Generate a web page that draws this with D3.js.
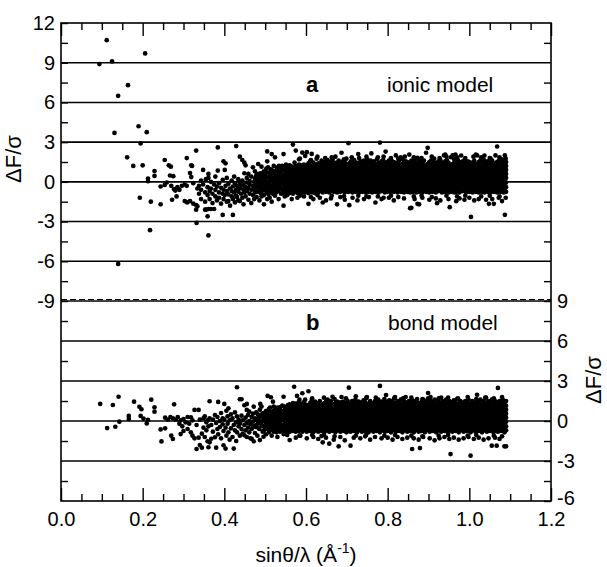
<!DOCTYPE html>
<html><head><meta charset="utf-8">
<script src="https://cdn.jsdelivr.net/npm/d3@7"></script>
<style>body{margin:0;background:#fff} svg{display:block} text{font-family:"Liberation Sans",Arial,sans-serif;fill:#000}</style>
</head><body><svg id="c" width="607" height="567"></svg>
<script>
const xTickLabels=[0,0.2,0.4,0.6,0.8,1.0,1.2];
const xMinor=[.05,.1,.15,.25,.3,.35,.45,.5,.55,.65,.7,.75,.85,.9,.95,1.05,1.1,1.15];
const topTicks=[-9,-6,-3,0,3,6,9,12];
const topMinor=[10.5,7.5,4.5,1.5,-1.5,-4.5,-7.5];
const botTicks=[-6,-3,0,3,6,9];
const botMinor=[7.5,4.5,1.5,-1.5,-4.5];
const topLines=[9,6,3,0,-3,-6];
const botLines=[6,3,0,-3];
const panelLabels=["a","b"];
const modelNames=["ionic model","bond model"];

// panel a (ionic model): [sinθ/λ, list of ΔF/σ]
const ionicCols=[
[.094,[8.9]],[.112,[10.7]],[.125,[9.1]],[.131,[3.7]],[.140,[6.5,-6.2]],[.162,[1.85]],[.164,[7.3]],[.177,[1.2]],[.190,[4.2]],[.193,[-1.2]],[.195,[2.9]],[.200,[1.25]],[.206,[9.7]],[.210,[3.75]],[.213,[.25,.05]],[.218,[-3.65]],[.220,[-1.5]],[.229,[.82,.45]],[.244,[-.35,-1.7]],[.254,[1.65,-.23]],[.259,[-.05]],[.264,[1.25]],[.267,[.48]],[.269,[1.15]],[.270,[-.3]],[.272,[-1.35]],[.275,[.43]],[.277,[-.55]],[.280,[-.66]],[.283,[-1.1]],[.285,[-.4]],[.290,[-.6]],[.296,[-.3]],[.303,[-.2,-1.45]],[.308,[1.8,-.3]],[.309,[-1.55]],[.316,[.66,-1.45]],[.319,[.36,1.25]],[.321,[1.2]],[.324,[-1.65,-.1]],[.331,[2.36,-1.75,-2.1]],[.332,[-3.1]],[.334,[-1.85,-.5]],
[.338,[-.3,-.9]],[.343,[.1,-1.3,-.6]],[.348,[.9,-.2]],[.353,[-2.1,-.8,-1.5]],[.355,[-2.1,.2]],[.359,[-2.6,-.4,-1.0]],[.361,[.6,.3,-4.05,-2.05]],[.364,[-.7,-1.3]],[.367,[-2.05,.0,-.5]],[.371,[-.9,-1.6]],[.375,[-2.05,-.2]],[.378,[-.6,-1.1,.4]],[.382,[-1.4,-.35]],[.384,[2.6,.85]],[.387,[-.8,-.1,-1.2]],[.392,[-1.65,-.45]],[.396,[-2.5,-.9,.15]],[.398,[1.55,-1.3,-.6]],[.401,[.9,-1.0]],[.403,[1.4,-.3]],[.406,[-.7,-1.5,.3]],[.41,[-1.45,-.15,-.95]],[.414,[-.5,-1.8]],[.418,[.1,-1.1,-.7]],[.421,[-2.5,-1.3,-.35]],[.424,[-.8,.4]],[.426,[-1.55,-.1]],[.429,[2.7,-.6,-1.05]],[.431,[-1.15,-.3]],[.434,[.2,-.75,-1.4]],[.438,[1.9,-1.45,-.5,-.05]],[.441,[-.9,-.3]],[.444,[1.65,-1.2,.1]],[.447,[-.6,-.25,-1.7]],[.449,[1.45,.65,-.8]],[.452,[1.25,-.4,-1.1]],[.455,[-.05,-.7,.3]],[.459,[.6,-1.35,-.45]],[.462,[-.2,-.9,.05]],[.466,[-.6,-1.6,.4]],[.47,[1.1,-.3,-1.0]],[.473,[.0,-.55,-1.3]],[.475,[.8,-.8,.25]],[.479,[-.4,-1.15,.55]],[.483,[1.35,-.1,-.7]],[.486,[.3,-1.4,-.45]],[.489,[.0,-.85,.65]],[.491,[1.15,-.3,-1.1]],[.494,[.45,-.6,.1]],[.497,[-.2,-1.0,.8,-1.7]],[.5,[.25,-.45,.55]],[.503,[-.75,.0,1.0]],[.505,[2.3,1.55,-.3,-1.3]],[.508,[.35,-.5,-.95,.7]],[.511,[.1,-.2,-1.2]],[.514,[.6,-.65,.95]],[.516,[2.1,-.35,.25,-1.5]],[.519,[.5,-.9,.0]],[.521,[1.2,-.15,.7,-.6]],[.524,[1.85,.3,-1.05]],[.527,[-.4,.05,.85,-.8]],[.53,[.5,-.25,1.1]],[.533,[-.7,.2,-1.3,.65]],[.536,[.95,.0,-.45]],[.539,[-.2,.4,-.9,.75]],[.542,[1.2,-.55,.15]],[.545,[2.1,.5,-.1,-1.8,-.8]],[.548,[.85,-.4,.25,-1.1]],[.551,[1.3,.0,-.65,.55]],[.554,[-.3,.35,.9,-1.0]],[.557,[.1,-.75,.6,1.2]],
[.477,[.35,-.2]],[.481,[-.75,.15]],[.485,[.6,-.3]],[.492,[-.05,.4,-.7]],[.496,[.7,-.35]],[.501,[-.6,.3,.75]],[.507,[.0,-.7,1.1]],[.513,[.45,-.35,-.8]],[.518,[.85,.2,-.5]],[.523,[-.2,.6,-.95]],[.529,[.15,-.6,.95]],[.534,[.4,-.15,1.2]],[.538,[-.45,.7,.1]],[.543,[.3,-.85,.9]],[.547,[-.1,.55,1.1,-.6]],[.552,[.3,-.35,.8,-.9]],[.555,[.0,.5,1.0,-.5]],[.558,[-.3,.2,.7,1.05,-.85]],
[.560,[-.85,-.55,-.2,.1,.4,.7,1.0,1.25]],[.565,[-.7,-.4,-.05,.25,.55,.85,1.15,-1.3]],[.568,[2.82,-.9,-.6,-.3,.0,.3,.65,.95]],[.572,[-.75,-.45,-.1,.2,.5,.8,1.1,1.45]],[.575,[2.36,-.65,-.3,.05,.35,.6,.9,1.2]],[.579,[-.85,-.5,-.2,.1,.45,.75,1.05,-1.2]],[.583,[-.7,-.35,-.05,.25,.55,.9,1.3,1.7]],[.587,[-.9,-.55,-.25,.1,.4,.7,1.0,1.25]],[.591,[2.21,-.75,-.4,-.1,.2,.55,.85,1.15]],[.595,[-.6,-.3,.05,.35,.65,.95,1.3,-1.1]],[.598,[1.96,-.8,-.5,-.15,.15,.45,.8,1.1]],[.602,[2.24,-.7,-.4,-.05,.25,.6,.9,1.2]],[.606,[-1.66,-.85,-.5,-.2,.1,.4,.75,1.05,1.4]],[.610,[-.65,-.35,.0,.3,.6,.9,1.2,1.55]],[.614,[2.11,-.8,-.45,-.15,.2,.5,.8,1.1]],[.618,[-.7,-.4,-.05,.25,.55,.85,1.15,1.45,-1.3]],[.622,[-.85,-.5,-.2,.1,.4,.7,1.0,1.3]],[.626,[-.6,-.3,.05,.35,.65,.95,1.25,1.75]],[.630,[-.8,-.45,-.15,.2,.5,.8,1.1,1.4]],[.634,[-1.2,-.7,-.35,-.05,.3,.6,.9,1.2]],[.638,[-.55,-.25,.1,.4,.7,1.0,1.35,1.6]],[.641,[-1.56,-.8,-.45,-.1,.2,.5,.85,1.15]],[.645,[-.65,-.3,.0,.35,.65,.95,1.25,1.5]],[.649,[-.75,-.4,-.1,.25,.55,.85,1.15,1.45,-1.4]],[.653,[-.6,-.25,.05,.4,.7,1.0,1.3,1.65]],[.657,[-.8,-.45,-.15,.15,.45,.75,1.1,1.4]],[.661,[-.7,-.35,.0,.3,.6,.9,1.2,1.5,-1.25]],[.665,[-.55,-.25,.1,.45,.75,1.05,1.35,1.7]],[.668,[-.75,-.4,-.05,.25,.55,.85,1.2,1.45]],[.672,[1.9,-.65,-.3,.05,.35,.7,1.0,1.3]],[.676,[-1.7,-.8,-.45,-.1,.2,.5,.8,1.1,1.45]],[.680,[-.6,-.25,.1,.4,.7,1.05,1.35,1.6]],[.684,[-.75,-.4,-.05,.3,.6,.9,1.2,1.5,-1.15]],[.687,[2.2,-.55,-.2,.15,.45,.75,1.05,1.4]],[.691,[-.7,-.35,.0,.3,.65,.95,1.25,1.55]],[.695,[-.8,-.45,-.1,.2,.5,.85,1.15,1.45,-1.35]],[.699,[-.6,-.25,.1,.4,.7,1.0,1.3,1.75]],[.704,[2.92,-.75,-.4,-.05,.25,.55,.9,1.2]],[.706,[-1.76,-.55,-.2,.15,.45,.8,1.1,1.4]],[.710,[-.7,-.35,.0,.35,.65,.95,1.25,1.55]],[.714,[-.8,-.45,-.1,.25,.55,.85,1.15,1.5,-1.2]],[.718,[-.6,-.3,.05,.4,.7,1.0,1.35,1.65]],[.722,[-.75,-.4,-.05,.3,.6,.9,1.2,1.45]],[.726,[-.55,-.2,.1,.45,.75,1.05,1.4,-1.4]],[.730,[-.8,-.45,-.15,.2,.5,.8,1.1,1.45,1.8]],[.734,[-.65,-.3,.0,.35,.65,.95,1.25,1.55]],[.738,[-.75,-.4,-.05,.3,.6,.9,1.2,1.5]],[.742,[-.6,-.25,.1,.4,.7,1.0,1.3,1.6,-1.3]],[.746,[-.8,-.45,-.1,.25,.55,.85,1.15,1.45]],[.750,[-.65,-.3,.05,.35,.7,1.0,1.3,1.7]],[.754,[-.75,-.4,-.05,.3,.6,.9,1.2,1.5,-1.15]],[.758,[-.55,-.2,.15,.45,.75,1.05,1.35,1.6]],[.762,[-.8,-.45,-.1,.2,.5,.8,1.1,1.45]],[.766,[-.65,-.3,.0,.35,.65,.95,1.3,1.55]],[.770,[-1.56,-.75,-.4,-.05,.3,.6,.9,1.2]],[.774,[-.6,-.25,.1,.4,.7,1.0,1.35,1.7]],[.778,[-.8,-.45,-.15,.2,.5,.85,1.15,1.45]],[.781,[2.97,-.65,-.3,.05,.35,.65,.95,1.25]],[.785,[-.7,-.35,.0,.3,.6,.9,1.2,1.55,-1.3]],[.789,[-.55,-.2,.15,.45,.75,1.1,1.4,1.65]],[.793,[-.8,-.45,-.1,.25,.55,.85,1.15,1.45]],[.795,[2.29,-.65,-.3,.05,.4,.7,1.0,1.3]],[.799,[-.75,-.4,-.05,.3,.6,.9,1.2,1.5]],[.803,[-.6,-.25,.1,.4,.7,1.0,1.3,1.6,-1.2]],[.807,[-.8,-.45,-.15,.2,.5,.8,1.1,1.45]],[.811,[-.65,-.3,.0,.35,.65,.95,1.25,1.55]],[.815,[-.75,-.4,-.05,.3,.6,.9,1.25,1.5,-1.4]],[.820,[2.0,-.55,-.2,.15,.45,.75,1.05,1.4]],[.824,[-.8,-.45,-.1,.25,.55,.85,1.15,1.45]],[.828,[-.65,-.3,.05,.35,.65,.95,1.3,1.6]],[.832,[1.86,-.75,-.4,-.05,.3,.6,.9,1.2]],[.836,[1.7,-.6,-.25,.1,.4,.7,1.05,1.35]],[.840,[-.8,-.45,-.1,.2,.5,.8,1.1,1.45,-1.25]],[.844,[-.65,-.3,.0,.35,.65,.95,1.25,1.55]],[.848,[-.75,-.4,-.05,.3,.6,.9,1.2,1.5]],[.853,[2.06,-.55,-.2,.15,.45,.75,1.1,1.4]],[.855,[-1.99,-.8,-.45,-.1,.25,.55,.85,1.15]],[.858,[-1.96,-.65,-.3,.05,.35,.65,1.0,1.3,1.6]],[.862,[-.75,-.4,-.05,.3,.6,.9,1.2,1.5]],[.866,[-.6,-.25,.1,.4,.7,1.0,1.35,1.65,-1.3]],[.870,[-.8,-.45,-.15,.2,.5,.8,1.1,1.45]],[.873,[1.81,-1.66,-.65,-.3,.0,.35,.65,.95,1.25]],[.877,[-1.7,-.75,-.4,-.05,.3,.6,.9,1.2,1.55]],[.881,[-.55,-.2,.15,.45,.75,1.05,1.4,1.7]],[.885,[-.8,-.45,-.1,.2,.5,.85,1.15,1.45,-1.2]],[.889,[-.65,-.3,.05,.35,.65,.95,1.25,1.6]],[.894,[2.2,-.75,-.4,-.05,.3,.6,.9,1.2]],[.898,[2.57,-.6,-.25,.1,.4,.7,1.0,1.35]],[.902,[-.8,-.45,-.1,.25,.55,.85,1.15,1.5,-1.35]],[.906,[-.65,-.3,.0,.35,.65,.95,1.3,1.6]],[.910,[-.75,-.4,-.05,.3,.6,.9,1.2,1.5]],[.914,[-.55,-.2,.15,.45,.75,1.05,1.4,1.75]],[.918,[-.8,-.45,-.1,.2,.5,.8,1.1,1.45,-1.25]],[.921,[-1.61,-.65,-.3,.05,.35,.65,.95,1.25]],[.925,[-.7,-.35,.0,.3,.6,.9,1.2,1.55]],[.929,[-.6,-.25,.1,.4,.7,1.0,1.35,1.65,-1.4]],[.933,[-.8,-.45,-.15,.2,.5,.85,1.15,1.45]],[.938,[2.0,-.65,-.3,.05,.35,.65,.95,1.3]],[.941,[2.06,-.75,-.4,-.05,.3,.6,.9,1.2,1.55]],[.945,[-.55,-.2,.15,.45,.75,1.05,1.35,1.65]],[.949,[-.8,-.45,-.1,.25,.55,.85,1.15,1.45,-1.3]],[.952,[-1.91,-.65,-.3,.0,.35,.65,.95,1.25]],[.955,[1.86,-.75,-.4,-.05,.3,.6,.9,1.2]],[.959,[2.0,-.6,-.25,.1,.4,.7,1.0,1.35]],[.963,[-.8,-.45,-.1,.2,.5,.8,1.1,1.45,1.7]],[.966,[2.06,-.65,-.3,.05,.35,.65,.95,1.3]],[.968,[-1.46,-.75,-.4,-.05,.3,.6,.9,1.2]],[.972,[-.55,-.2,.15,.45,.75,1.05,1.4,1.65]],[.976,[-.8,-.45,-.1,.25,.55,.85,1.15,1.5,-1.25]],[.980,[1.99,-.65,-.3,.0,.35,.65,.95,1.25]],[.984,[-.7,-.35,.0,.3,.6,.9,1.2,1.55]],[.988,[-.6,-.25,.1,.4,.7,1.0,1.3,1.65,-1.35]],[.992,[-.8,-.45,-.15,.2,.5,.8,1.1,1.45]],[.996,[-.65,-.3,.05,.35,.65,.95,1.25,1.55]],[1.000,[-.75,-.4,-.05,.3,.6,.9,1.2,1.5,-1.2]],[1.004,[-2.65,-.55,-.2,.15,.45,.75,1.05,1.4]],[1.008,[-.8,-.45,-.1,.25,.55,.85,1.15,1.45]],[1.012,[-.65,-.3,.0,.35,.65,.95,1.3,1.6,-1.4]],[1.016,[2.06,-.75,-.4,-.05,.3,.6,.9,1.2]],[1.019,[2.0,-.6,-.25,.1,.4,.7,1.0,1.35]],[1.023,[-.8,-.45,-.1,.2,.5,.85,1.15,1.5,-1.3]],[1.027,[-.65,-.3,.05,.35,.65,.95,1.25,1.6]],[1.031,[-.75,-.4,-.05,.3,.6,.9,1.2,1.55]],[1.035,[-.55,-.2,.15,.45,.75,1.05,1.35,1.7]],[1.037,[1.99,-.8,-.45,-.1,.25,.55,.85,1.15]],[1.041,[-.65,-.3,.0,.35,.65,.95,1.25,1.5,-1.35]],[1.045,[-.75,-.4,-.05,.3,.6,.9,1.2,1.55]],[1.048,[-1.66,-.6,-.25,.1,.4,.7,1.0,1.35]],[1.052,[-.8,-.45,-.1,.2,.5,.8,1.1,1.45,1.75]],[1.056,[-.65,-.3,.05,.35,.65,.95,1.3,1.6,-1.3]],[1.060,[-1.66,-.75,-.4,-.05,.3,.6,.9,1.2]],[1.064,[2.0,-.55,-.2,.15,.45,.75,1.05,1.4]],[1.068,[2.67,-.8,-.45,-.1,.25,.55,.85,1.15,1.5]],[1.072,[-.65,-.3,.0,.35,.65,.95,1.25,1.6,-1.2]],[1.076,[-.75,-.4,-.05,.3,.6,.9,1.2,1.55]],[1.080,[-.6,-.25,.1,.4,.7,1.0,1.35,1.7,-1.45]],[1.084,[-.8,-.45,-.1,.2,.5,.8,1.1,1.45]],[1.087,[-2.49,-.65,-.3,.05,.35,.65,.95,1.3,2.0]],[1.090,[-.75,-.4,-.05,.3,.6,.9,1.2,1.5]],
[.585,[1.75,-1.05]],[.612,[1.65,-1.15]],[.628,[-1.0,1.9]],[.647,[1.8]],[.663,[-1.05,1.85]],[.693,[1.7,-1.1]],[.712,[1.85]],[.728,[-1.05,2.1]],[.748,[1.9,-1.1]],[.760,[2.15]],[.776,[-1.1,1.85]],[.790,[1.9,-1.2]],[.808,[1.8,-1.05]],[.826,[-1.15,1.75]],[.842,[1.9]],[.864,[1.85,-1.1]],[.883,[1.8,-1.05]],[.908,[1.9,-1.15]],[.927,[1.8]],[.944,[-1.05,1.9]],[.970,[1.85,-1.1]],[.990,[1.8,-1.05]],[1.010,[1.9]],[1.029,[1.85,-1.1]],[1.050,[-1.05,1.8]],[1.074,[1.85,-1.1]],[1.089,[1.75,-1.2]]
];

// panel b (bond model)
const bondCols=[
[.096,[1.28]],[.113,[-.53]],[.127,[1.2]],[.133,[-.43]],[.141,[1.82]],[.143,[-.05]],[.166,[.38,.15]],[.179,[1.45]],[.192,[1.07]],[.195,[.38]],[.197,[.88]],[.202,[.18]],[.21,[-.18]],[.213,[.08]],[.221,[1.6]],[.229,[1.03,.7]],[.244,[-.63]],[.246,[-1.53]],[.255,[-.55,.25]],[.262,[.1]],[.268,[.3]],[.27,[-1.1]],[.274,[-1.35,.2]],[.277,[1.25]],[.281,[.1]],[.286,[.3]],[.29,[-.2]],[.293,[-.98,.05]],[.297,[-.4]],[.3,[.15,-.75]],[.305,[-.1]],[.31,[.3,-.6]],[.314,[-.2]],[.318,[.28,-.85]],[.322,[-1.1,.05]],[.327,[.83,-1.3]],[.332,[-2.1,-.3]],[.337,[.83,-1.25]],[.34,[-1.8,.1]],[.345,[-.95,-2.0]],[.349,[-.5,.2]],
[.352,[.35,-1.2]],[.356,[-.7,-.1]],[.359,[-1.52,.05]],[.361,[-1.97,-.4]],[.364,[1.48,-1.6,.2]],[.368,[-1.33,-.3]],[.372,[.1,-.8]],[.377,[-1.22,.45]],[.38,[-2.0,-.15]],[.383,[-.6,.3]],[.385,[1.43,-1.0]],[.389,[.0,-.45]],[.392,[-1.3,.6]],[.396,[-.25,.2]],[.398,[-1.82,-.75]],[.4,[1.28,.1]],[.403,[-2.07,-.5]],[.405,[.77,-1.1]],[.408,[-.2,.35]],[.41,[.95,-.85]],[.413,[-1.4,.05]],[.416,[-.55,.5]],[.42,[.2,-1.2]],[.423,[-2.07,-.3]],[.426,[.65,-.7]],[.429,[-.1,-1.5]],[.431,[2.53,.35,-.85]],[.435,[-.4,.1]],[.438,[1.63,-1.1,-.2]],[.442,[1.63,.4,-.6]],[.445,[-.95,.05]],[.449,[1.18,-1.07,-.3]],[.452,[.25,-.7]],[.455,[.83,1.28,-.15,-1.2]],[.458,[-.5,.45]],[.461,[.0,-.85,.7]],[.464,[-1.3,-.25]],[.467,[-1.33,.3,-.6]],[.47,[.55,-.05]],[.472,[1.08,-1.52,-.4]],[.475,[.2,-.9]],[.478,[-.3,.65]],[.481,[-1.1,.1]],[.484,[.4,-.55]],[.487,[-1.43,.0,.85]],[.488,[1.28]],[.491,[1.08,-.3]],[.494,[.35,-.8]],[.496,[-1.18,.1,.6]],[.499,[-.45,.3]],[.502,[.75,-.15,-1.0]],[.504,[.2,-.6]],[.506,[1.88,.5,-.3]],[.509,[-.85,.05,.9]],[.511,[.3,-.45]],[.514,[1.78,-.2,.7]],[.516,[-1.1,.1,.45]],[.519,[1.45,-.5,.25]],[.521,[1.08,-.1,-.8]],[.524,[.55,-.35,.15]],[.527,[-.65,.8,.0]],[.53,[.35,-.25,1.0,-1.2]],[.533,[-.5,.15,.6]],[.536,[.9,-.1,-.8]],[.539,[.4,-.55,.05]],[.542,[-.3,.7,1.15]],[.545,[1.82,-.98,.2,-.45]],[.548,[.5,-.2,.85]],[.551,[-.7,.1,.35]],[.554,[1.0,-.4,.6,-1.05]],[.557,[-.15,.3,.75]],
[.477,[.1,-.45]],[.482,[.5,-.2]],[.486,[-.6,.3]],[.493,[.0,.55,-.35]],[.497,[-.7,.2]],[.501,[.45,-.4,.0]],[.507,[-.1,.75,-.55]],[.512,[.2,-.7,1.0]],[.517,[-.25,.6,-.6]],[.522,[.35,-.45,.8]],[.528,[-.1,.45,-.85]],[.532,[.65,.05,-.4]],[.537,[-.6,.3,1.05]],[.541,[.1,-.3,.55]],[.546,[.75,-.7,.3,1.1]],[.55,[-.35,.6,.0,-.95]],[.553,[.2,-.6,.95]],[.556,[-.45,.55,1.2,.0]],[.558,[.35,-.8,.8,-.2]],
[.560,[-1.43,-.8,-.5,-.2,.1,.4,.7,1.0,1.25]],[.564,[-.65,-.35,-.05,.25,.55,.85,1.15]],[.568,[-.75,-.45,-.15,.15,.45,.75,1.05,1.35]],[.571,[2.57,-.6,-.3,.0,.3,.6,.9,1.2]],[.575,[-.8,-.5,-.2,.1,.4,.7,1.0,1.3,-1.25]],[.578,[1.88,-.65,-.35,-.05,.25,.55,.85,1.15]],[.582,[-.75,-.45,-.15,.2,.5,.8,1.1,1.4]],[.586,[-.6,-.3,.05,.35,.65,.95,1.25,-1.1]],[.591,[2.08,-.8,-.5,-.2,.1,.4,.7,1.0]],[.594,[-.7,-.4,-.1,.2,.5,.8,1.1,1.4]],[.598,[-.55,-.25,.05,.35,.65,.95,1.25,1.6]],[.602,[-.8,-.5,-.2,.15,.45,.75,1.05,-1.3]],[.606,[2.23,-.65,-.35,-.05,.25,.55,.85,1.2]],[.610,[-.75,-.45,-.1,.2,.5,.8,1.1,1.35]],[.614,[-.6,-.3,.0,.3,.6,.9,1.2,1.55]],[.618,[-.85,-.5,-.2,.1,.4,.7,1.0,1.3,-1.2]],[.622,[-.7,-.4,-.05,.25,.55,.85,1.15,1.45]],[.626,[-.55,-.25,.05,.35,.65,1.0,1.3]],[.630,[-.8,-.5,-.15,.15,.45,.75,1.05,1.35,-1.35]],[.634,[-.65,-.35,-.05,.25,.55,.85,1.15,1.5]],[.638,[-1.13,-.75,-.45,-.1,.2,.5,.8,1.1]],[.641,[-1.6,-.6,-.3,.0,.3,.6,.9,1.25]],[.645,[-.85,-.5,-.2,.1,.4,.7,1.0,1.35]],[.649,[-.7,-.4,-.05,.25,.55,.85,1.15,1.45,-1.25]],[.653,[-.55,-.25,.05,.35,.65,.95,1.3,1.6]],[.657,[-1.7,-.8,-.5,-.15,.15,.45,.75,1.05]],[.661,[-.65,-.35,-.05,.25,.55,.85,1.2,1.5]],[.665,[1.82,-.75,-.45,-.1,.2,.5,.8,1.1]],[.668,[-.6,-.3,.0,.3,.6,.9,1.25,-1.4]],[.672,[-.85,-.5,-.2,.1,.4,.7,1.0,1.35]],[.676,[-.7,-.4,-.05,.25,.55,.85,1.15,1.45]],[.680,[-1.9,-.55,-.25,.05,.35,.65,.95,1.3]],[.684,[-.8,-.5,-.15,.15,.45,.75,1.05,1.4,-1.2]],[.687,[1.8,-.65,-.35,-.05,.25,.55,.9,1.2]],[.691,[-.75,-.45,-.1,.2,.5,.8,1.1,1.45]],[.695,[-.6,-.3,.0,.3,.6,.95,1.25,-1.45]],[.699,[-.85,-.5,-.2,.1,.4,.7,1.0,1.35]],[.702,[-.7,-.4,-.05,.25,.55,.85,1.15,1.5]],[.705,[2.5,-.55,-.25,.05,.35,.65,.95,1.3]],[.709,[-1.85,-.8,-.5,-.15,.15,.45,.8,1.1]],[.713,[-.65,-.35,-.05,.25,.55,.85,1.2,1.5]],[.717,[-.75,-.45,-.1,.2,.5,.8,1.1,1.4,-1.25]],[.721,[-.6,-.3,.0,.3,.65,.95,1.25,1.6]],[.725,[-.85,-.5,-.2,.1,.4,.7,1.0,1.3]],[.729,[-.7,-.4,-.05,.25,.55,.9,1.2,1.45]],[.733,[-.55,-.25,.05,.35,.65,.95,1.3,-1.3]],[.737,[-.8,-.5,-.15,.15,.45,.75,1.05,1.4]],[.741,[-.65,-.35,-.05,.25,.6,.9,1.2,1.55]],[.745,[-.75,-.45,-.1,.2,.5,.8,1.1,1.4,-1.15]],[.749,[-.6,-.3,.0,.3,.6,.9,1.25,1.8]],[.753,[-.85,-.5,-.2,.1,.4,.7,1.0,1.3]],[.757,[-.7,-.4,-.05,.25,.55,.85,1.15,1.5,-1.4]],[.761,[-.55,-.25,.05,.35,.65,1.0,1.3]],[.765,[-.8,-.5,-.15,.15,.45,.75,1.05,1.35]],[.769,[-.65,-.35,-.05,.25,.55,.85,1.2,1.5,-1.2]],[.773,[-.75,-.45,-.1,.2,.5,.8,1.1,1.4]],[.777,[-.6,-.3,.0,.3,.6,.9,1.25,1.6]],[.781,[2.63,-.85,-.5,-.2,.1,.4,.7,1.0,1.3]],[.785,[-.7,-.4,-.05,.25,.55,.85,1.15,1.45,-1.3]],[.789,[-.55,-.25,.05,.35,.65,.95,1.3]],[.793,[-.8,-.5,-.15,.15,.45,.75,1.05,1.4]],[.796,[1.95,-.65,-.35,-.05,.25,.6,.9,1.2]],[.800,[-.75,-.45,-.1,.2,.5,.8,1.1,1.45,-1.25]],[.804,[-.6,-.3,.0,.3,.6,.9,1.25,1.55]],[.808,[-.85,-.5,-.2,.1,.4,.7,1.0,1.3]],[.812,[-.7,-.4,-.05,.25,.55,.85,1.15,1.5,-1.4]],[.816,[-.55,-.25,.05,.35,.65,.95,1.3,1.7]],[.820,[-.8,-.5,-.15,.15,.45,.75,1.05,1.35]],[.824,[-.65,-.35,-.05,.25,.55,.9,1.2,1.5,-1.2]],[.828,[-.75,-.45,-.1,.2,.5,.8,1.1,1.4]],[.832,[-.6,-.3,.0,.3,.6,.9,1.25,1.6]],[.836,[-.85,-.5,-.2,.1,.4,.7,1.0,1.3,-1.35]],[.840,[-.7,-.4,-.05,.25,.55,.85,1.15,1.5]],[.844,[-.55,-.25,.05,.35,.65,.95,1.3,1.8]],[.848,[-.8,-.5,-.15,.15,.45,.75,1.05,1.4,-1.25]],[.852,[-.65,-.35,-.05,.25,.6,.9,1.2,1.5]],[.856,[-.75,-.45,-.1,.2,.5,.8,1.1,1.4]],[.860,[-2.1,-.6,-.3,.0,.3,.6,.9,1.25,1.55]],[.864,[-.85,-.5,-.2,.1,.4,.7,1.0,1.3,-1.3]],[.868,[-.7,-.4,-.05,.25,.55,.85,1.15,1.5]],[.872,[-.55,-.25,.05,.35,.65,1.0,1.3,1.65]],[.876,[-.8,-.5,-.15,.15,.45,.75,1.05,1.35,-1.4]],[.879,[-2.03,-.65,-.35,-.05,.25,.55,.85,1.2]],[.883,[-.75,-.45,-.1,.2,.5,.8,1.1,1.45]],[.887,[-.6,-.3,.0,.3,.6,.9,1.25,1.6,-1.2]],[.891,[-.85,-.5,-.2,.1,.4,.7,1.0,1.3]],[.895,[-.7,-.4,-.05,.25,.55,.85,1.15,1.5]],[.899,[2.1,-.55,-.25,.05,.35,.65,.95,1.3,1.7]],[.903,[-.8,-.5,-.15,.15,.45,.75,1.05,1.4,-1.3]],[.907,[-.65,-.35,-.05,.25,.55,.9,1.2,1.5]],[.911,[-.75,-.45,-.1,.2,.5,.8,1.1,1.4]],[.915,[-.6,-.3,.0,.3,.6,.9,1.25,1.6,-1.45]],[.919,[-.85,-.5,-.2,.1,.4,.7,1.0,1.3]],[.923,[-.7,-.4,-.05,.25,.55,.85,1.15,1.5]],[.927,[-.55,-.25,.05,.35,.65,.95,1.3,-1.3]],[.931,[-.8,-.5,-.15,.15,.45,.75,1.05,1.4,1.75]],[.935,[-.65,-.35,-.05,.25,.6,.9,1.2,1.5]],[.939,[-.75,-.45,-.1,.2,.5,.8,1.1,1.4,-1.2]],[.943,[-.6,-.3,.0,.3,.6,.9,1.25,1.6]],[.947,[-.85,-.5,-.2,.1,.4,.7,1.0,1.3]],[.951,[-.7,-.4,-.05,.25,.55,.85,1.15,1.5,-1.35]],[.954,[-2.48,-.55,-.25,.05,.35,.65,.95,1.3]],[.958,[-.8,-.5,-.15,.15,.45,.75,1.05,1.4]],[.962,[-.65,-.35,-.05,.25,.55,.9,1.2,1.55,-1.25]],[.966,[-.75,-.45,-.1,.2,.5,.8,1.1,1.4]],[.970,[-.6,-.3,.0,.3,.6,.9,1.25,1.65]],[.974,[-.85,-.5,-.2,.1,.4,.7,1.0,1.3,-1.4]],[.978,[-.7,-.4,-.05,.25,.55,.85,1.15,1.5]],[.982,[-.55,-.25,.05,.35,.65,.95,1.3]],[.986,[-.8,-.5,-.15,.15,.45,.75,1.05,1.4,-1.3]],[.990,[-.65,-.35,-.05,.25,.6,.9,1.2,1.5]],[.994,[-.75,-.45,-.1,.2,.5,.8,1.1,1.45]],[.998,[-.6,-.3,.0,.3,.6,.9,1.25,1.6,-1.2]],[1.003,[-2.6,-.85,-.5,-.2,.1,.4,.7,1.0,1.3]],[1.007,[-.7,-.4,-.05,.25,.55,.85,1.15,1.5]],[1.011,[-.55,-.25,.05,.35,.65,.95,1.3,-1.35]],[1.015,[-.8,-.5,-.15,.15,.45,.75,1.05,1.4]],[1.019,[1.97,-.65,-.35,-.05,.25,.55,.9,1.2]],[1.023,[-.75,-.45,-.1,.2,.5,.8,1.1,1.45,-1.25]],[1.027,[-.6,-.3,.0,.3,.6,.9,1.25,1.6]],[1.031,[-.85,-.5,-.2,.1,.4,.7,1.0,1.3]],[1.035,[-.7,-.4,-.05,.25,.55,.85,1.15,1.5,-1.4]],[1.039,[-.55,-.25,.05,.35,.65,.95,1.3,1.75]],[1.043,[-.8,-.5,-.15,.15,.45,.75,1.05,1.4]],[1.047,[-.65,-.35,-.05,.25,.6,.9,1.2,1.5,-1.3]],[1.051,[-.75,-.45,-.1,.2,.5,.8,1.1,1.4]],[1.055,[-1.85,-.6,-.3,.0,.3,.6,.9,1.25,1.6]],[1.059,[-.85,-.5,-.2,.1,.4,.7,1.0,1.3]],[1.063,[-.7,-.4,-.05,.25,.55,.85,1.15,1.5,-1.25]],[1.067,[-1.85,-.55,-.25,.05,.35,.65,.95,1.3]],[1.070,[2.48,-.8,-.5,-.15,.15,.45,.75,1.05,1.4]],[1.074,[-.65,-.35,-.05,.25,.55,.9,1.2,1.5,-1.35]],[1.078,[-.75,-.45,-.1,.2,.5,.8,1.1,1.45]],[1.082,[-.6,-.3,.0,.3,.6,.9,1.25,1.6]],[1.086,[-1.9,-.85,-.5,-.2,.1,.4,.7,1.0,1.3]],[1.090,[-1.9,-.7,-.4,-.05,.25,.55,.85,1.15,1.5]],
[.584,[1.6,-1.1]],[.615,[1.7,-1.05]],[.644,[-1.05,1.75]],[.67,[1.65,-1.15]],[.698,[1.7]],[.722,[-1.1,1.85]],[.747,[1.7,-1.05]],[.771,[1.75]],[.792,[-1.1,1.65]],[.818,[1.8,-1.05]],[.838,[1.7]],[.858,[-1.1,1.75]],[.885,[1.65,-1.15]],[.905,[1.8]],[.925,[-1.1,1.7]],[.948,[1.75,-1.05]],[.972,[1.7]],[.996,[-1.1,1.8]],[1.017,[1.65,-1.05]],[1.041,[1.75]],[1.06,[-1.1,1.7]],[1.08,[1.8,-1.15]]
];

const svg=d3.select('#c');
const L=61,R=551,T=23,B=501,MID=301;
const x=d3.scaleLinear().domain([0,1.2]).range([L,R]);
const yT=d3.scaleLinear().domain([-9,12]).range([MID,T]);
const yB=d3.scaleLinear().domain([-6,9]).range([B,MID]);
const flat=cols=>cols.flatMap(([xv,ys])=>ys.map(yv=>[xv,yv]));
const ionic=flat(ionicCols), bond=flat(bondCols);

// horizontal reference lines
const hl=(g,vals,sc)=>g.selectAll('line').data(vals).join('line')
  .attr('x1',L).attr('x2',R).attr('y1',d=>sc(d)).attr('y2',d=>sc(d))
  .attr('stroke','#000').attr('stroke-width',1.6);
hl(svg.append('g'),topLines,yT);
hl(svg.append('g'),botLines,yB);
hl(svg.append('g'),[9],yB);
svg.append('line').attr('x1',L).attr('x2',R).attr('y1',yT(-9)-1.5).attr('y2',yT(-9)-1.5)
  .attr('stroke','#000').attr('stroke-width',1).attr('stroke-dasharray','6,3');

// points
const R0=2.35;
svg.append('g').selectAll('circle').data(ionic).join('circle')
  .attr('cx',d=>x(d[0])).attr('cy',d=>yT(d[1])).attr('r',R0).attr('fill','#000');
svg.append('g').selectAll('circle').data(bond).join('circle')
  .attr('cx',d=>x(d[0])).attr('cy',d=>yB(d[1])).attr('r',R0).attr('fill','#000');

// axes
const style=g=>{g.select('.domain').remove();g.selectAll('line').attr('stroke','#000').attr('stroke-width',1.4);
  g.selectAll('text').attr('font-size',20).attr('font-family','"Liberation Sans",Arial,sans-serif').attr('fill','#000');};
const fmt=d=>String(d);
svg.append('g').attr('transform',`translate(${L},0)`).call(d3.axisLeft(yT).tickValues(topTicks).tickSize(-7).tickPadding(6).tickFormat(fmt)).call(style);
svg.append('g').attr('transform',`translate(${L},0)`).call(d3.axisLeft(yT).tickValues(topMinor).tickSize(-7).tickFormat('')).call(style);
svg.append('g').attr('transform',`translate(${L},0)`).call(d3.axisLeft(yB).tickValues(botMinor).tickSize(-7).tickFormat('')).call(style);
const rAx=svg.append('g').attr('transform',`translate(${R},0)`).call(d3.axisRight(yB).tickValues(botTicks).tickSize(-7).tickPadding(6).tickFormat(fmt)).call(style);
rAx.selectAll('.tick').filter(d=>d===-6).select('text').attr('dy','0.15em');
svg.append('g').attr('transform',`translate(${R},0)`).call(d3.axisRight(yB).tickValues(botMinor).tickSize(-7).tickFormat('')).call(style);
svg.append('g').attr('transform',`translate(${R},0)`).call(d3.axisRight(yT).tickValues(topMinor).tickSize(-7).tickFormat('')).call(style);
svg.append('g').attr('transform',`translate(0,${B})`).call(d3.axisBottom(x).tickValues(xTickLabels).tickSize(-13).tickPadding(11).tickFormat(d3.format('.1f'))).call(style);
svg.append('g').attr('transform',`translate(0,${B})`).call(d3.axisBottom(x).tickValues(xMinor).tickSize(-7).tickFormat('')).call(style);
svg.append('g').attr('transform',`translate(0,${T})`).call(d3.axisTop(x).tickValues(xTickLabels).tickSize(-13).tickFormat('')).call(style);
svg.append('g').attr('transform',`translate(0,${T})`).call(d3.axisTop(x).tickValues(xMinor).tickSize(-7).tickFormat('')).call(style);

// frame
svg.append('rect').attr('x',L).attr('y',T).attr('width',R-L).attr('height',B-T)
  .attr('fill','none').attr('stroke','#000').attr('stroke-width',1.6);

// panel texts
svg.append('text').attr('x',306).attr('y',92).attr('font-size',22).attr('font-weight','bold').text(panelLabels[0]);
svg.append('text').attr('x',387).attr('y',92).attr('font-size',21).text(modelNames[0]);
svg.append('text').attr('x',306).attr('y',330).attr('font-size',22).attr('font-weight','bold').text(panelLabels[1]);
svg.append('text').attr('x',388).attr('y',330).attr('font-size',21).text(modelNames[1]);

// axis titles
svg.append('text').attr('transform','translate(21,159) rotate(-90)').attr('text-anchor','middle').attr('font-size',22).text('ΔF/σ');
svg.append('text').attr('transform','translate(601,380) rotate(-90)').attr('text-anchor','middle').attr('font-size',22).text('ΔF/σ');
const xt=svg.append('text').attr('x',306).attr('y',562).attr('text-anchor','middle').attr('font-size',21);
xt.append('tspan').text('sinθ/λ (Å');
xt.append('tspan').attr('dy',-9).attr('font-size',14).text('-1');
xt.append('tspan').attr('dy',9).text(')');
</script></body></html>
